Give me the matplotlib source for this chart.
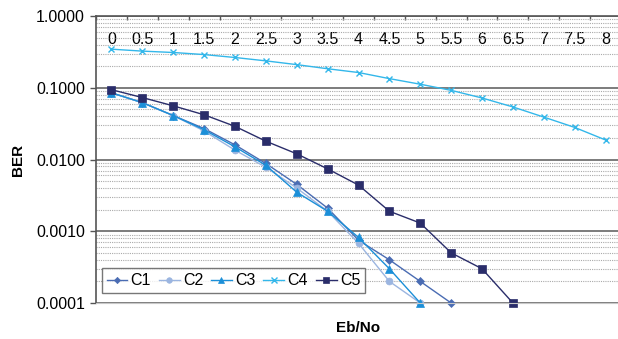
import numpy as np
import matplotlib
matplotlib.use("Agg")
import matplotlib.pyplot as plt
from matplotlib.ticker import FixedLocator, FuncFormatter, LogLocator, NullFormatter

plt.rcParams["font.family"] = ["Liberation Sans", "DejaVu Sans"]

ebno = ["0", "0.5", "1", "1.5", "2", "2.5", "3", "3.5", "4", "4.5",
        "5", "5.5", "6", "6.5", "7", "7.5", "8"]

c1 = [0.085, 0.062, 0.041, 0.027, 0.016, 0.0088, 0.0045, 0.0021, 0.00075, 0.0004,
      0.0002, 0.0001, None, None, None, None, None]
c2 = [0.085, 0.062, 0.041, 0.025, 0.0135, 0.0078, 0.0040, 0.0019, 0.00068, 0.0002,
      0.0001, None, None, None, None, None, None]
c3 = [0.085, 0.062, 0.041, 0.026, 0.015, 0.0083, 0.0035, 0.0019, 0.00082, 0.0003,
      0.0001, None, None, None, None, None, None]
c4 = [0.345, 0.324, 0.31, 0.29, 0.264, 0.237, 0.21, 0.184, 0.163, 0.134,
      0.112, 0.092, 0.072, 0.054, 0.039, 0.028, 0.0187]
c5 = [0.094, 0.073, 0.056, 0.042, 0.029, 0.018, 0.012, 0.0074, 0.0044, 0.0019,
      0.0013, 0.0005, 0.0003, 0.0001, None, None, None]

series = [
    ("C1", c1, "#4a6cb3", "D", 4),
    ("C2", c2, "#9bb5e0", "o", 5),
    ("C3", c3, "#1b8fd8", "^", 6),
    ("C4", c4, "#33b7ea", "x", 5),
    ("C5", c5, "#2a2d6a", "s", 6),
]

fig = plt.figure(figsize=(6.18, 3.39), dpi=100)
ax = fig.add_axes([96 / 618, 36 / 339, 525 / 618, 287 / 339])

x = np.arange(len(ebno))
for name, vals, col, mk, ms in series:
    y = np.array([np.nan if v is None else v for v in vals], dtype=float)
    ax.plot(x, y, color=col, marker=mk, markersize=ms, linewidth=1.0,
            markeredgewidth=1.0 if mk == "x" else 0.5, label=name, clip_on=False)

ax.set_yscale("log")
ax.set_ylim(0.0001, 1.0)
ax.set_xlim(-0.5, len(ebno) - 0.5)

# y axis
ax.yaxis.set_major_locator(FixedLocator([0.0001, 0.001, 0.01, 0.1, 1.0]))
ax.yaxis.set_major_formatter(FuncFormatter(lambda v, p: f"{v:.4f}"))
ax.yaxis.set_minor_locator(LogLocator(base=10, subs=np.arange(2, 10)))
ax.yaxis.set_minor_formatter(NullFormatter())
ax.tick_params(axis="y", which="major", direction="out", length=4, width=1,
               color="#555555", labelsize=11.5, pad=4)
ax.tick_params(axis="y", which="minor", length=0)
ax.grid(True, axis="y", which="major", color="#666666", linewidth=1.2)
ax.grid(True, axis="y", which="minor", color="#aaaaaa", linewidth=0.8,
        linestyle=(0, (1, 1)))

# x axis: labels along the top, inside the plot
ax.xaxis.tick_top()
ax.set_xticks(x)
ax.set_xticklabels(ebno)
ax.set_xticks(np.arange(-0.5, len(ebno)), minor=True)
ax.tick_params(axis="x", which="major", length=0, labelsize=11.5, pad=-22)
ax.tick_params(axis="x", which="minor", top=True, bottom=False, direction="in",
               length=3, width=1, color="#555555")
ax.set_axisbelow(True)

for side in ["left", "top"]:
    ax.spines[side].set_color("#555555")
    ax.spines[side].set_linewidth(1.2)
ax.spines["bottom"].set_color("#c8c8c8")
ax.spines["right"].set_visible(False)

ax.xaxis.set_label_position("bottom")
ax.set_xlabel("Eb/No", fontsize=11, fontweight="bold", labelpad=13)
ax.set_ylabel("BER", fontsize=11, fontweight="bold")
ax.yaxis.set_label_coords(-0.135, 0.5)

leg = ax.legend(loc="lower left", bbox_to_anchor=(0.011, 0.035), ncol=5,
                fontsize=11.5, frameon=True, fancybox=False, handlelength=1.3,
                handletextpad=0.2, columnspacing=0.5, borderpad=0.3,
                borderaxespad=0, markerscale=0.8)
leg.get_frame().set_edgecolor("#555555")
leg.get_frame().set_linewidth(1.0)

fig.savefig("out.png", dpi=100)
